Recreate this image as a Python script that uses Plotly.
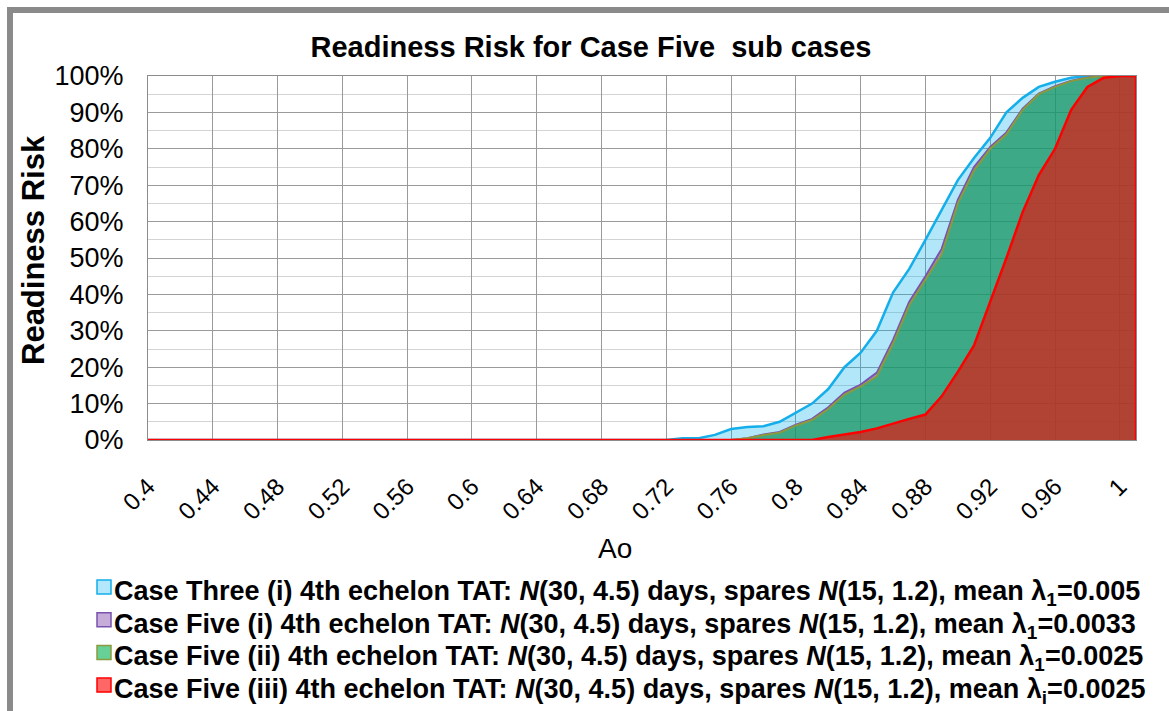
import plotly.graph_objects as go

# Operational availability (Ao) categories, 0.40 .. 1.01 in steps of 0.01
ao = [round(0.40 + 0.01 * i, 2) for i in range(62)]

# Cumulative readiness risk for each sub case (fractions)
case_three_i = [0] * 33 + [
    0.005, 0.005, 0.014, 0.030, 0.036, 0.038, 0.050, 0.074, 0.100, 0.140,
    0.200, 0.240, 0.300, 0.405, 0.470, 0.550, 0.630, 0.714, 0.775, 0.830,
    0.900, 0.940, 0.970, 0.984, 0.995, 1.0, 1.0, 1.0, 1.0]
case_five_i = [0] * 37 + [
    0.005, 0.015, 0.022, 0.042, 0.058, 0.090, 0.130, 0.152, 0.185, 0.275,
    0.380, 0.450, 0.525, 0.660, 0.750, 0.805, 0.845, 0.910, 0.952, 0.972,
    0.987, 0.996, 1.0, 1.0, 1.0]
case_five_ii = [0] * 37 + [
    0.005, 0.014, 0.020, 0.040, 0.055, 0.085, 0.125, 0.147, 0.175, 0.265,
    0.370, 0.440, 0.510, 0.650, 0.740, 0.800, 0.840, 0.907, 0.950, 0.970,
    0.986, 0.995, 1.0, 1.0, 1.0]
case_five_iii = [0] * 42 + [
    0.008, 0.014, 0.022, 0.032, 0.046, 0.058, 0.070, 0.120, 0.187, 0.260,
    0.380, 0.500, 0.626, 0.728, 0.800, 0.907, 0.970, 0.995, 1.0, 1.0]

x_tick_vals = [0.40, 0.44, 0.48, 0.52, 0.56, 0.60, 0.64, 0.68, 0.72, 0.76,
               0.80, 0.84, 0.88, 0.92, 0.96, 1.00]
x_tick_text = ["0.4", "0.44", "0.48", "0.52", "0.56", "0.6", "0.64", "0.68",
               "0.72", "0.76", "0.8", "0.84", "0.88", "0.92", "0.96", "1"]

legend_names = [
    "Case Three (i) 4th echelon TAT: <i>N</i>(30, 4.5) days, spares <i>N</i>(15, 1.2), mean λ<sub>1</sub>=0.005",
    "Case Five (i) 4th echelon TAT: <i>N</i>(30, 4.5) days, spares <i>N</i>(15, 1.2), mean λ<sub>1</sub>=0.0033",
    "Case Five (ii) 4th echelon TAT: <i>N</i>(30, 4.5) days, spares <i>N</i>(15, 1.2), mean λ<sub>1</sub>=0.0025",
    "Case Five (iii) 4th echelon TAT: <i>N</i>(30, 4.5) days, spares <i>N</i>(15, 1.2), mean λ<sub>i</sub>=0.0025",
]

series = [
    # values, area fill, line colour, line width, key swatch fill
    (case_three_i, "rgba(0,176,240,0.3)", "#14AEEA", 2.5, "#B3E7FB"),
    (case_five_i, "rgba(112,48,160,0.4)", "#7A52B0", 2.0, "#C6ACD9"),
    (case_five_ii, "rgba(0,176,80,0.6)", "#8C9A3E", 2.0, "#66D096"),
    (case_five_iii, "rgba(255,0,0,0.6)", "#FF0000", 2.5, "#FF6666"),
]

FONT = "Liberation Sans, Arial, sans-serif"

fig = go.Figure()

for i, (vals, fillc, linec, lw, swatch) in enumerate(series):
    xs, ys = list(ao), list(vals)
    if i == len(series) - 1:
        # close the last area down to the axis at the right edge
        xs.append(ao[-1])
        ys.append(0)
    fig.add_trace(go.Scatter(
        x=xs, y=ys, mode="lines", fill="tozeroy", fillcolor=fillc,
        line=dict(color=linec, width=lw), name=legend_names[i],
        showlegend=False, hoverinfo="skip"))

# plot area in pixel terms: x 148..1136, y 76..440
def px_x(p):
    return (p - 148) / 988.0

def px_y(p):
    return (440 - p) / 364.0

# key below the chart: a square swatch and a bold label per series
key_shapes = []
key_labels = []
key_top = 580
key_step = 32.7
for k, (name, (_, _, linec, _, swatch)) in enumerate(zip(legend_names, series)):
    top = key_top + k * key_step
    key_shapes.append(dict(
        type="rect", xref="paper", yref="paper",
        x0=px_x(97), x1=px_x(111), y0=px_y(top), y1=px_y(top + 14),
        fillcolor=swatch, line=dict(color=linec, width=1.5)))
    key_labels.append(dict(
        text=name, xref="paper", yref="paper", x=px_x(112), y=px_y(top + 13),
        xanchor="left", yanchor="middle", showarrow=False,
        font=dict(family=FONT, size=27, weight="bold", color="black")))

fig.update_layout(
    width=1169, height=711,
    margin=dict(l=148, r=33, t=76, b=271, autoexpand=False),
    paper_bgcolor="white", plot_bgcolor="white",
    font=dict(family=FONT, color="black"),
    title=dict(text="Readiness Risk for Case Five  sub cases",
               x=591 / 1169, xanchor="center", y=1 - 47 / 711, yanchor="middle",
               font=dict(family=FONT, size=29, weight="bold", color="black")),
    showlegend=False,
    xaxis=dict(range=[0.40, 1.01], tickmode="array", tickvals=x_tick_vals,
               ticktext=x_tick_text, tickangle=-45, ticklabelstandoff=22,
               tickfont=dict(family=FONT, size=24, color="black"),
               showgrid=True, gridcolor="#9a9a9a", gridwidth=1,
               zeroline=False, showline=True, linecolor="#8c8c8c",
               linewidth=1, mirror=True, ticks=""),
    yaxis=dict(range=[0, 1.0], tickmode="linear", tick0=0, dtick=0.1,
               tickformat=".0%", ticklabelstandoff=18,
               tickfont=dict(family=FONT, size=27, color="black"),
               showgrid=True, gridcolor="#9a9a9a", gridwidth=1,
               minor=dict(dtick=0.05, showgrid=True, gridcolor="#d4d4d4"),
               zeroline=False, showline=True, linecolor="#8c8c8c",
               linewidth=1, mirror=True, ticks=""),
    annotations=[
        dict(text="Readiness Risk", textangle=-90, xref="paper", yref="paper",
             x=px_x(33), y=px_y(250), xanchor="center", yanchor="middle",
             showarrow=False,
             font=dict(family=FONT, size=31, weight="bold", color="black")),
        dict(text="Ao", xref="paper", yref="paper", x=px_x(615), y=px_y(548),
             xanchor="center", yanchor="middle", showarrow=False,
             font=dict(family=FONT, size=28, color="black")),
    ] + key_labels,
    shapes=[
        # outer frame (top and left edges)
        dict(type="line", xref="paper", yref="paper",
             x0=px_x(7), x1=px_x(1169), y0=px_y(10), y1=px_y(10),
             line=dict(color="#8a8a8a", width=6)),
        dict(type="line", xref="paper", yref="paper",
             x0=px_x(10), x1=px_x(10), y0=px_y(7), y1=px_y(720),
             line=dict(color="#8a8a8a", width=6)),
    ] + key_shapes,
)

fig.write_html("out.html")
